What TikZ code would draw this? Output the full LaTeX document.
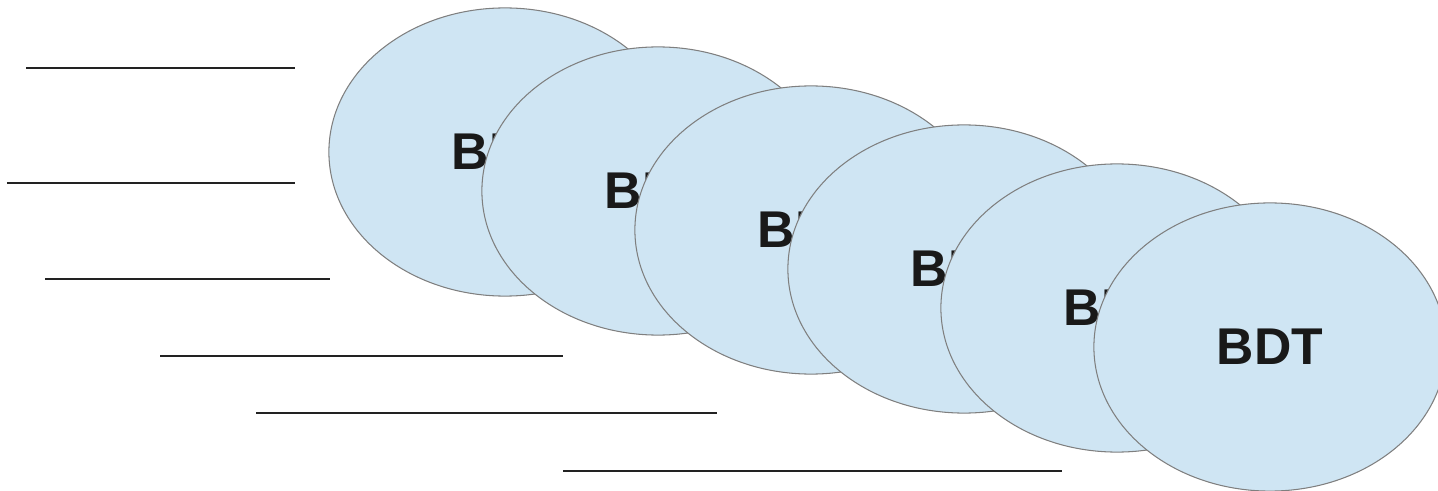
\documentclass[tikz,border=0pt]{standalone}
\usepackage{fontspec}
\setsansfont{Liberation Sans}
\usepackage{tikz}
\usetikzlibrary{shapes.geometric}
\definecolor{bdtfill}{HTML}{CFE5F3}
\definecolor{bdtline}{HTML}{7F7F7F}
\definecolor{speedline}{HTML}{222222}

\begin{document}
\begin{tikzpicture}[x=0.01cm, y=-0.01cm,
	bdt/.style={ellipse, draw=bdtline, line width=0.3pt, fill=bdtfill,
		minimum width=3.52cm, minimum height=2.88cm, inner sep=0pt,
		font=\sffamily\bfseries\fontsize{14.7}{17}\selectfont, text=black!90},
	speed/.style={speedline, line width=0.4pt}]
	\useasboundingbox (0,0) rectangle (1438,491);
	%%%	Linee di velocita'
	\draw [speed] (26,68) -- (295,68);
	\draw [speed] (7,183) -- (295,183);
	\draw [speed] (45,279) -- (330,279);
	\draw [speed] (160,356) -- (563,356);
	\draw [speed] (256,413) -- (717,413);
	\draw [speed] (563,471) -- (1062,471);
	%%%	Ellissi
	\node [bdt] (bdt1) at (505,152) {BDT};
	\node [bdt] (bdt2) at (658,191) {BDT};
	\node [bdt] (bdt3) at (811,230) {BDT};
	\node [bdt] (bdt4) at (964,269) {BDT};
	\node [bdt] (bdt5) at (1117,308) {BDT};
	\node [bdt] (bdt6) at (1270,347) {BDT};
\end{tikzpicture}
\end{document}
